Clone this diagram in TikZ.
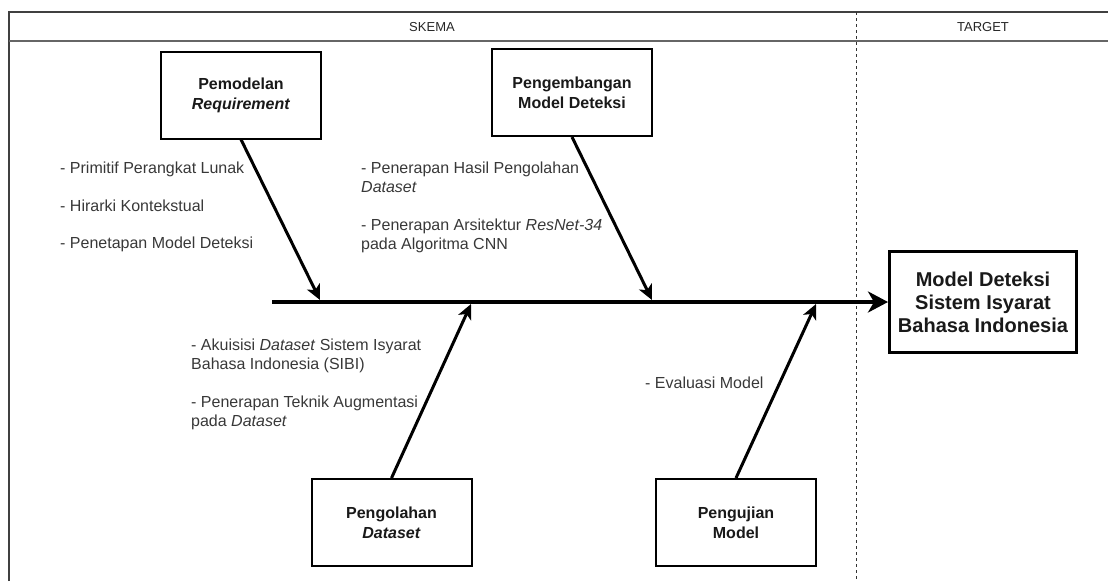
\documentclass[tikz,border=0pt]{standalone}
\usepackage{fontspec}
\setmainfont{Liberation Sans}
\usetikzlibrary{arrows.meta,calc}
\begin{document}
\begin{tikzpicture}[x=1pt,y=-1pt,
  box/.style={draw=black, line width=2pt, fill=white, inner sep=0pt,
    minimum width=160pt, minimum height=87pt, align=center,
    font=\fontsize{16}{20}\selectfont\bfseries, text=black!90},
  goal/.style={draw=black, line width=3pt, fill=white, inner sep=0pt,
    minimum width=187pt, minimum height=101pt, align=center,
    font=\fontsize{20}{23}\selectfont\bfseries, text=black!90},
  lbl/.style={anchor=base west, inner sep=0pt,
    font=\fontsize{16}{19}\selectfont, text=black!78},
  hdr/.style={inner sep=0pt, font=\fontsize{13}{15}\selectfont, text=black!85},
  bone/.style={line width=3pt, -{Stealth[length=15pt,width=14pt,inset=4pt]}},
  spinearrow/.style={line width=4pt, -{Stealth[length=20pt,width=21pt,inset=6pt]}},
  frameline/.style={draw=black!75, line width=1.2pt},
  lanesep/.style={draw=black!80, line width=0.9pt, dash pattern=on 3pt off 3pt}
]
\useasboundingbox (0,0) rectangle (1108,581);

% swimlane frame and header
\draw[frameline] (9,581) -- (9,12) -- (1112,12);
\draw[draw=black!60, line width=2pt] (9,41) -- (1112,41);
\draw[lanesep] (856,12) -- (856,581);
\node[hdr] (skema) at (432,27) {SKEMA};
\node[hdr] (target) at (983,27) {TARGET};

% cause boxes
\node[box] (pem) at (241,95) {Pemodelan\\\textit{Requirement}};
\node[box] (pgb) at (572,92.5) {Pengembangan\\Model Deteksi};
\node[box] (pol) at (391.5,522.5) {Pengolahan\\\textit{Dataset}};
\node[box] (uji) at (736,522.5) {Pengujian\\Model};

% effect box
\node[goal] (goal) at (983,302) {Model Deteksi\\Sistem Isyarat\\Bahasa Indonesia};

% spine
\coordinate (sp0) at (272,302);
\draw[spinearrow] (sp0) -- (goal.west);

% bones
\coordinate (t1) at (320,300);
\coordinate (t2) at (652,300);
\coordinate (t3) at (471,304);
\coordinate (t4) at (816,304);
\draw[bone] (pem.south) -- (t1);
\draw[bone] (pgb.south) -- (t2);
\draw[bone] (pol.north) -- (t3);
\draw[bone] (uji.north) -- (t4);

% sub-causes
\node[lbl] (a1) at (60,173.5) {- Primitif Perangkat Lunak};
\node[lbl] (a2) at (60,211) {- Hirarki Kontekstual};
\node[lbl] (a3) at (60,248.5) {- Penetapan Model Deteksi};

\node[lbl] (b1) at (361,173) {- Penerapan Hasil Pengolahan};
\node[lbl] (b2) at (361,192) {\textit{Dataset}};
\node[lbl] (b3) at (361,230) {- Penerapan Arsitektur \textit{ResNet-34}};
\node[lbl] (b4) at (361,249) {pada Algoritma CNN};

\node[lbl] (c1) at (191,350) {- Akuisisi \textit{Dataset} Sistem Isyarat};
\node[lbl] (c2) at (191,369) {Bahasa Indonesia (SIBI)};
\node[lbl] (c3) at (191,407.5) {- Penerapan Teknik Augmentasi};
\node[lbl] (c4) at (191,426.5) {pada \textit{Dataset}};

\node[lbl] (d1) at (645,388.5) {- Evaluasi Model};
\end{tikzpicture}
\end{document}
